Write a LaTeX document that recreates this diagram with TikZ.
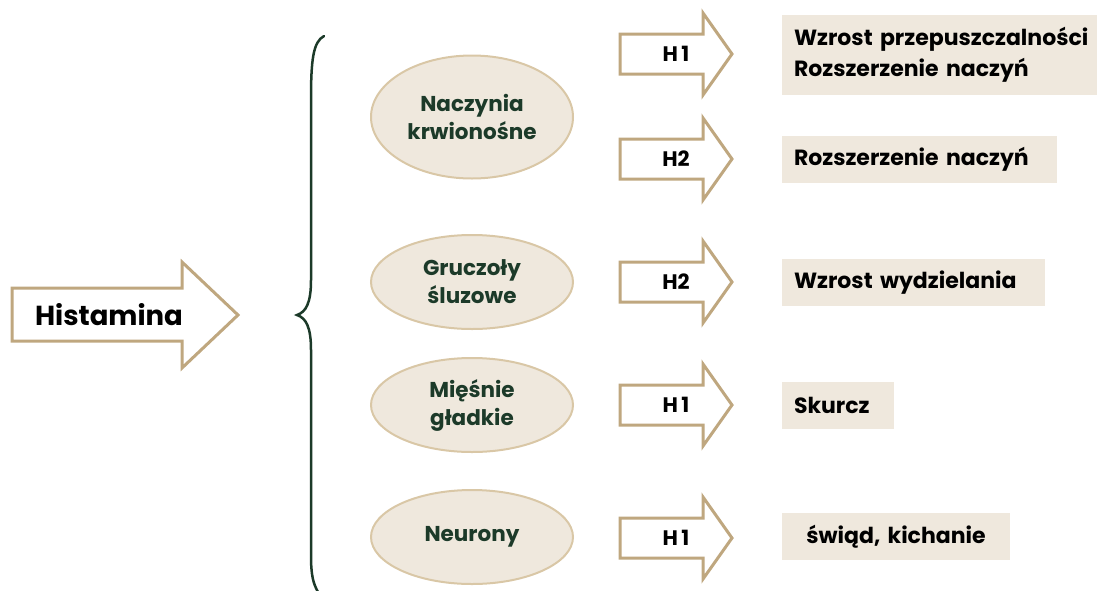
\documentclass[tikz,border=0pt]{standalone}
\usepackage{fontspec}
\setmainfont{Poppins}
\usetikzlibrary{shapes.geometric}
\definecolor{tan}{HTML}{BFA77F}
\definecolor{cream}{HTML}{EFE8DD}
\definecolor{creamline}{HTML}{D9C7A6}
\definecolor{pine}{HTML}{1C3A29}
\begin{document}
\begin{tikzpicture}[x=1pt, y=-1pt,
    organ/.style={ellipse, draw=creamline, line width=2pt, fill=cream, text=pine,
      minimum width=202pt, minimum height=94pt, align=center,
      font=\bfseries\fontsize{21.5}{28}\selectfont},
    effect/.style={rectangle, fill=cream, minimum height=47pt, inner xsep=12pt,
      align=left, font=\bfseries\fontsize{22}{31}\selectfont},
    receptor/.style={font=\bfseries\fontsize{21}{24}\selectfont}]
    \useasboundingbox (0,0) rectangle (1097,590);

    \draw[tan, line width=3pt, fill=white]
      (12,288) -- (182,288) -- (182,262) -- (238,315) -- (182,368) -- (182,341) -- (12,341) -- cycle;
    \node[font=\bfseries\fontsize{27.5}{30}\selectfont] (hist) at (109,315) {Histamina};

    \draw[pine, line width=2.5pt, line cap=round]
      (324,36) .. controls (313,42) and (311,60) .. (311,100) -- (311,280)
      .. controls (311,303) and (306,312) .. (297,315)
      .. controls (306,318) and (311,327) .. (311,350) -- (311,555)
      .. controls (311,575) and (313,583) .. (318,592);

    \node[organ, minimum height=123pt] (vessels) at (472,117) {Naczynia\\krwionośne};
    \node[organ] (glands)  at (472,282) {Gruczoły\\śluzowe};
    \node[organ] (muscles) at (472,405) {Mięśnie\\gładkie};
    \node[organ] (neurons) at (472,537) {Neurony};

    \foreach \c/\lab/\name in {54/H\,1/ra, 159/H2/rb, 282/H2/rc, 405/H\,1/rd, 538/H\,1/re}{
      \draw[tan, line width=3pt, fill=white]
        (620,\c-20) -- (703,\c-20) -- (703,\c-41) -- (732,\c) -- (703,\c+41) -- (703,\c+20) -- (620,\c+20) -- cycle;
      \node[receptor] (\name) at (676,\c) {\lab};
    }

    \node[effect, minimum height=80pt, minimum width=340pt, text width=316pt] (ea) at (952,55)
      {Wzrost przepuszczalności\\Rozszerzenie naczyń};
    \node[effect, minimum width=275pt, text width=251pt] (eb) at (919.5,159.5) {Rozszerzenie naczyń};
    \node[effect, minimum width=263pt, text width=239pt] (ec) at (913.5,282.5) {Wzrost wydzielania};
    \node[effect, minimum width=112pt, text width=88pt] (ed) at (838,405.5) {Skurcz};
    \node[effect, minimum width=228pt, text width=204pt, align=center] (ee) at (896,536.5) {świąd, kichanie};
  \end{tikzpicture}
\end{document}
